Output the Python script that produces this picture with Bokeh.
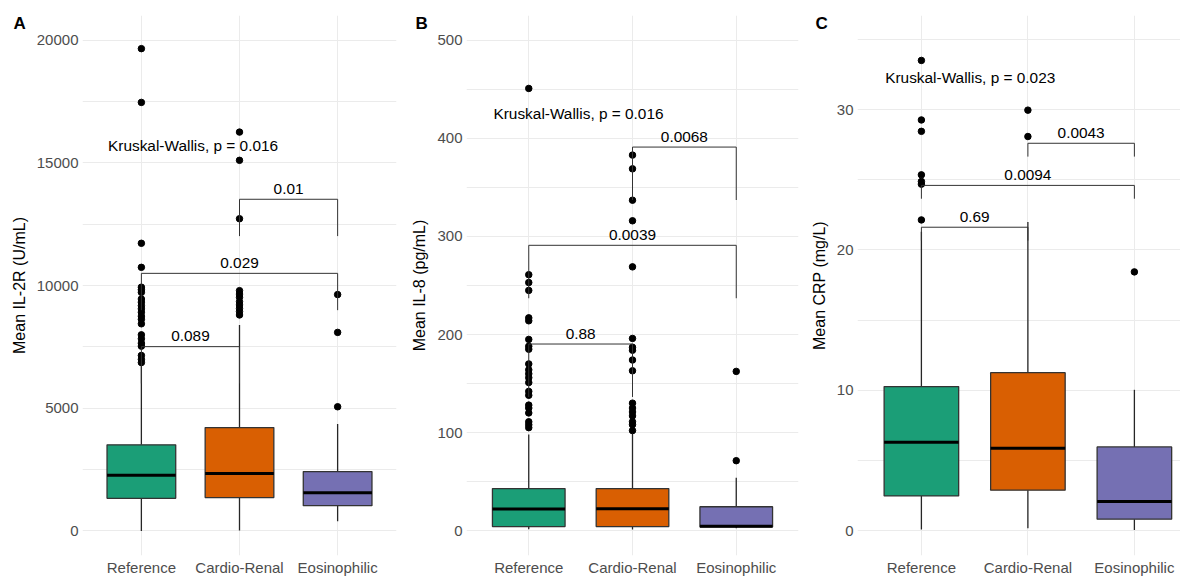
from bokeh.plotting import figure
from bokeh.layouts import row
from bokeh.models import FixedTicker, Range1d, NumeralTickFormatter
from bokeh.embed import file_html
from bokeh.resources import INLINE
from bokeh.core.properties import value

# ---------------- data ----------------
groups = ["Reference", "Cardio-Renal", "Eosinophilic"]
colors = ["#1B9E77", "#D95F02", "#7570B3"]

# Panel A: IL-2R (U/mL)
il2r_q1 = [1330, 1360, 1030]
il2r_med = [2270, 2345, 1553]
il2r_q3 = [3510, 4212, 2420]
il2r_low = [0, 20, 400]
il2r_high = [6770, 8390, 4360]
il2r_out_ref = [19650, 17460, 11720, 10740, 9930, 9830, 9720, 9450, 9320, 9180, 9050,
                8910, 8750, 8620, 8440, 7990, 7830, 7650, 7530, 7150, 6990, 6860]
il2r_out_cr = [16250, 15100, 12720, 9790, 9650, 9520, 9340, 9210, 9070, 8940, 8800]
il2r_out_eos = [9630, 8090, 5060]
il2r_ticks = [0, 5000, 10000, 15000, 20000]
il2r_minor = [2500, 7500, 12500, 17500]
il2r_pairs = [(1, 2), (1, 3), (2, 3)]
il2r_bracket_y = [7509, 10495, 13513]
il2r_bracket_tip = [1500, 1500, 1500]
il2r_pvals = ["0.089", "0.029", "0.01"]
il2r_kw = "Kruskal-Wallis, p = 0.016"
il2r_kw_y = 15684

# Panel B: IL-8 (pg/mL)
il8_q1 = [4.1, 4.1, 3.7]
il8_med = [22.0, 22.4, 4.5]
il8_q3 = [42.9, 42.9, 24.3]
il8_low = [1.5, 1.0, 2.5]
il8_high = [98, 99, 53.8]
il8_out_ref = [451, 261, 253, 245, 217, 214, 195, 188, 185, 170, 164, 160, 156, 151,
               142, 138, 128, 125, 120, 111, 108, 105]
il8_out_cr = [383, 369, 337, 316, 269, 196, 187, 184, 174, 163, 130, 125, 121, 117,
              111, 108, 102]
il8_out_eos = [162.4, 71.3]
il8_ticks = [0, 100, 200, 300, 400, 500]
il8_minor = [50, 150, 250, 350, 450]
il8_pairs = [(1, 2), (1, 3), (2, 3)]
il8_bracket_y = [190.3, 291, 391.2]
il8_bracket_tip = [54, 54, 54]
il8_pvals = ["0.88", "0.0039", "0.0068"]
il8_kw = "Kruskal-Wallis, p = 0.016"
il8_kw_y = 425.3

# Panel C: CRP (mg/L)
crp_q1 = [2.48, 2.89, 0.83]
crp_med = [6.31, 5.87, 2.09]
crp_q3 = [10.27, 11.26, 5.97]
crp_low = [0.1, 0.18, 0.05]
crp_high = [21.3, 22.0, 10.04]
crp_out_ref = [33.5, 29.26, 28.45, 25.35, 24.88, 24.69, 22.14]
crp_out_cr = [29.96, 28.08]
crp_out_eos = [18.44]
crp_ticks = [0, 10, 20, 30]
crp_minor = [5, 15, 25, 35]
crp_pairs = [(1, 2), (1, 3), (2, 3)]
crp_bracket_y = [21.62, 24.6, 27.6]
crp_bracket_tip = [0.95, 0.95, 0.95]
crp_pvals = ["0.69", "0.0094", "0.0043"]
crp_kw = "Kruskal-Wallis, p = 0.023"
crp_kw_y = 32.3

FONT = "Liberation Sans"
H = 578
TOP = 15
BOTTOM = 20
FRAME_H = H - TOP - BOTTOM


def panel(letter, ylabel, q1, med, q3, low, high, outs, ticks, minor, pairs, by, btip,
          pvals, kw, kw_y, yr, width, bl, br, x_end, letter_x):
    p = figure(width=width, height=H, x_range=Range1d(0.4, x_end), y_range=Range1d(*yr),
               output_backend="svg", toolbar_location=None,
               min_border_left=bl, min_border_right=br, min_border_top=TOP,
               min_border_bottom=BOTTOM)
    p.outline_line_color = None
    p.background_fill_color = "white"
    p.border_fill_color = "white"
    xs = [i + 1 for i in range(len(groups))]
    span = yr[1] - yr[0]
    ppu_y = FRAME_H / span

    # panel letter as a title hanging into the top border
    p.title.text = letter
    p.title.align = "left"
    p.title.offset = letter_x - bl
    p.title.standoff = -34
    p.title.text_font = FONT
    p.title.text_font_size = "17px"
    p.title.text_font_style = "bold"
    p.title.text_color = "black"

    # axes
    p.xaxis.ticker = FixedTicker(ticks=xs)
    p.xaxis.major_label_overrides = {x: g for x, g in zip(xs, groups)}
    p.yaxis.ticker = FixedTicker(ticks=ticks, minor_ticks=minor)
    p.yaxis.formatter = NumeralTickFormatter(format="0")
    for ax in (p.xaxis, p.yaxis):
        ax.axis_line_color = None
        ax.major_tick_line_color = None
        ax.minor_tick_line_color = None
        ax.major_tick_out = 0
        ax.major_tick_in = 0
        ax.minor_tick_out = 0
        ax.minor_tick_in = 0
        ax.major_label_text_font = FONT
        ax.major_label_text_font_size = "15px"
        ax.major_label_text_color = "#4D4D4D"
    p.xaxis.major_label_standoff = 3
    p.yaxis.major_label_standoff = 4
    p.yaxis.axis_label = ylabel
    p.yaxis.axis_label_text_font = FONT
    p.yaxis.axis_label_text_font_size = "16px"
    p.yaxis.axis_label_text_font_style = "normal"
    p.yaxis.axis_label_text_color = "black"
    p.yaxis.axis_label_standoff = 6
    p.xgrid.grid_line_color = "#EBEBEB"
    p.ygrid.grid_line_color = "#EBEBEB"
    p.ygrid.minor_grid_line_color = "#EBEBEB"
    p.xgrid.grid_line_width = 1
    p.ygrid.grid_line_width = 1

    # whiskers
    p.segment(x0=xs, y0=q3, x1=xs, y1=high, line_color="#262626", line_width=1.3)
    p.segment(x0=xs, y0=q1, x1=xs, y1=low, line_color="#262626", line_width=1.3)
    # boxes
    p.vbar(x=xs, width=0.7, bottom=q1, top=q3, fill_color=colors,
           line_color="#333333", line_width=1.3)
    p.segment(x0=[x - 0.35 for x in xs], x1=[x + 0.35 for x in xs], y0=med, y1=med,
              line_color="black", line_width=3)
    # outliers
    ox, oy = [], []
    for x, o in zip(xs, outs):
        ox += [x] * len(o)
        oy += o
    p.scatter(ox, oy, size=6.5, color="black")

    # brackets
    bx, byy, tx, ty = [], [], [], []
    for (a, b), y, t in zip(pairs, by, btip):
        bx.append([a, a, b, b])
        byy.append([y - t, y, y, y - t])
        tx.append((a + b) / 2)
        ty.append(y + 10.5 / ppu_y)
    p.multi_line(bx, byy, line_color="#333333", line_width=1)
    p.text(x=tx, y=ty, text=pvals, text_align="center", text_baseline="middle",
           text_font=value(FONT), text_font_size="15.4px", text_color="black")
    p.text(x=[0.66], y=[kw_y], text=[kw], text_align="left", text_baseline="middle",
           text_font=value(FONT), text_font_size="15.4px", text_color="black")
    return p


a = panel("A", "Mean IL-2R (U/mL)", il2r_q1, il2r_med, il2r_q3, il2r_low, il2r_high,
          [il2r_out_ref, il2r_out_cr, il2r_out_eos], il2r_ticks, il2r_minor, il2r_pairs,
          il2r_bracket_y, il2r_bracket_tip, il2r_pvals, il2r_kw, il2r_kw_y,
          (-1000, 21000), 398, 82, 2, 3.6, 13)
b = panel("B", "Mean IL-8 (pg/mL)", il8_q1, il8_med, il8_q3, il8_low, il8_high,
          [il8_out_ref, il8_out_cr, il8_out_eos], il8_ticks, il8_minor, il8_pairs,
          il8_bracket_y, il8_bracket_tip, il8_pvals, il8_kw, il8_kw_y,
          (-25.4, 525.4), 402, 68, 2, 3.6, 17)
c = panel("C", "Mean CRP (mg/L)", crp_q1, crp_med, crp_q3, crp_low, crp_high,
          [crp_out_ref, crp_out_cr, crp_out_eos], crp_ticks, crp_minor, crp_pairs,
          crp_bracket_y, crp_bracket_tip, crp_pvals, crp_kw, crp_kw_y,
          (-1.76, 36.7), 380, 57, 0, 3.433, 15)

layout = row(a, b, c)
open("out.html", "w").write(file_html(layout, INLINE))
